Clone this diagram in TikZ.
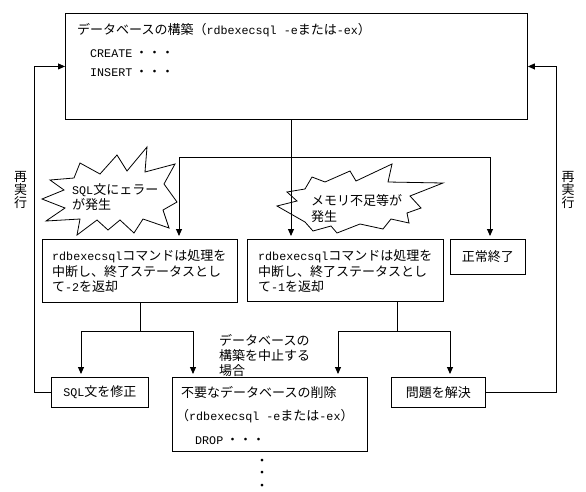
\documentclass[tikz,border=0pt]{standalone}
\usepackage{fontspec}
\setmainfont{Noto Sans CJK JP}
\newfontfamily\lat{Liberation Mono}[Scale=0.9]
\usetikzlibrary{arrows.meta}
\newcommand{\la}[1]{{\lat #1}}
\begin{document}
\begin{tikzpicture}[x=1pt,y=-1pt,
  every node/.style={inner sep=0pt, font=\fontsize{13}{15.5}\selectfont},
  box/.style={draw, line width=0.9pt, rectangle, anchor=north west},
  ln/.style={line width=0.9pt},
  arr/.style={ln, -{Triangle[length=7pt,width=6pt]}},
  darr/.style={arr, shorten >=3pt},
  burst/.style={draw, line width=0.8pt, fill=white}]
\useasboundingbox (0,0) rectangle (586,491);

% starbursts
\draw[burst] (80,163) -- (100,174) -- (117,155) -- (127,171) -- (147,147) -- (145,172) -- (175,164) -- (164,184) -- (177,202) -- (163,210) -- (169,228) -- (143,219) -- (134,233) -- (120,220) -- (108,230) -- (97,220) -- (77,235) -- (80,219) -- (46,221) -- (65,208) -- (42,199) -- (64,190) -- (50,180) -- (74,178) -- cycle;
\draw[burst] (312,177) -- (325,182) -- (350,171) -- (356,181) -- (392,164) -- (388,182) -- (443,183) -- (410,196) -- (421,208) -- (407,213) -- (409,223) -- (391,219) -- (383,229) -- (360,224) -- (337,233) -- (331,226) -- (313,231) -- (305,222) -- (277,206) -- (297,201) -- (287,192) -- (305,189) -- cycle;

% boxes
\node[box, minimum width=462pt, minimum height=106pt] (top) at (65,13) {};
\node[box, minimum width=195pt, minimum height=63pt] (b1) at (42,239) {};
\node[box, minimum width=196pt, minimum height=62pt] (b2) at (247,239) {};
\node[box, minimum width=75pt, minimum height=35pt] (ok) at (450,239) {正常終了};
\node[box, minimum width=97pt, minimum height=30pt] (fix) at (51,377) {\la{SQL}文を修正};
\node[box, minimum width=195pt, minimum height=74pt] (drop) at (172,377) {};
\node[box, minimum width=94pt, minimum height=30pt] (solve) at (391,377) {問題を解決};

% texts
\node[anchor=west] (t1) at (77,30) {データベースの構築（\la{rdbexecsql -e}または\la{-ex}）};
\node[anchor=west] (t2) at (90,54) {\la{CREATE} ・・・};
\node[anchor=west] (t3) at (90,73) {\la{INSERT} ・・・};
\node[anchor=west, align=left] (t4) at (52,271.5) {\la{rdbexecsql}コマンドは処理を\\中断し、終了ステータスとし\\て\la{-2}を返却};
\node[anchor=west, align=left] (t5) at (258,271.5) {\la{rdbexecsql}コマンドは処理を\\中断し、終了ステータスとし\\て\la{-1}を返却};
\node[anchor=west, align=left, font=\fontsize{13}{23.5}\selectfont] (t6) at (181,415.5) {不要なデータベースの削除\\\hspace*{-5pt}（\la{rdbexecsql -e}または\la{-ex}）\\\hspace*{14pt}\la{DROP} ・・・};
\node[anchor=west, align=left, font=\fontsize{13}{15}\selectfont] (lab) at (219,355) {データベースの\\構築を中止する\\場合};
\node[anchor=west, align=left, font=\fontsize{13}{14.5}\selectfont] (s1t) at (72,197) {\la{SQL}文にェラー\\が発生};
\node[anchor=west, align=left, font=\fontsize{13}{16}\selectfont] (s2t) at (311,209) {メモリ不足等が\\発生};
\node[align=center, font=\fontsize{13}{13}\selectfont] (re1) at (20.5,190) {再\\実\\行};
\node[align=center, font=\fontsize{13}{13}\selectfont] (re2) at (568,190) {再\\実\\行};
\node[align=center, font=\fontsize{13}{12.5}\selectfont] (dots) at (262,474.5) {・\\・\\・};

% connectors
\coordinate (c0) at (291,0);
\draw[darr] (top.south -| c0) -- (b2.north -| c0);
\coordinate (jl) at (179,157);
\coordinate (jr) at (490,157);
\draw[ln] (jl) -- (jr);
\draw[darr] (jl) -- (b1.north -| jl);
\draw[darr] (jr) -- (ok.north -| jr);

\coordinate (s1) at (140,331);
\coordinate (l1) at (81,331);
\coordinate (r1) at (193,331);
\draw[ln] (b1.south -| s1) -- (s1);
\draw[ln] (l1) -- (r1);
\draw[darr] (l1) -- (fix.north -| l1);
\draw[darr] (r1) -- (drop.north -| r1);

\coordinate (s2) at (397,331);
\coordinate (l2) at (338,331);
\coordinate (r2) at (450,331);
\draw[ln] (b2.south -| s2) -- (s2);
\draw[ln] (l2) -- (r2);
\draw[darr] (l2) -- (drop.north -| l2);
\draw[darr] (r2) -- (solve.north -| r2);

\coordinate (lx) at (34,0);
\coordinate (rx) at (556.5,0);
\draw[arr] (fix.west) -- (fix.west -| lx) -- (lx |- top.west) -- (top.west);
\draw[arr] (solve.east) -- (solve.east -| rx) -- (rx |- top.east) -- (top.east);
\end{tikzpicture}
\end{document}
